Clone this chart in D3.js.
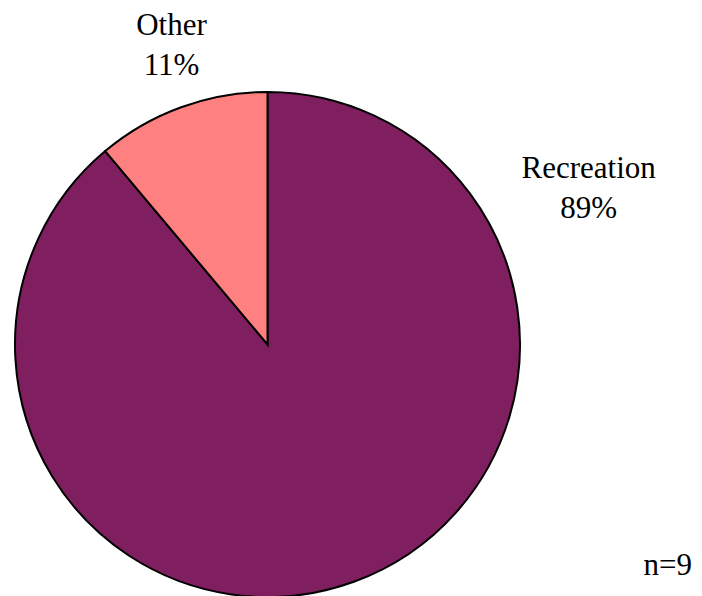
<!DOCTYPE html>
<html><head><meta charset="utf-8">
<script src="https://cdn.jsdelivr.net/npm/d3@7"></script>
<style>html,body{margin:0;padding:0;background:#fff;overflow:hidden}
#wrap{position:relative;width:702px;height:596px}
#wrap svg{position:absolute;left:0;top:0}
.lbl{position:absolute;font-family:"Liberation Serif","Tinos","Times New Roman",serif;font-size:31px;line-height:31px;color:#000;white-space:nowrap}
</style>
</head><body>
<div id="wrap"><svg id="c" width="702" height="596"></svg></div>
<script>
const categories = ["Recreation", "Other"];
const values = [8, 1];
const percentLabels = ["89%", "11%"];
const colors = ["#7F1F5F", "#FF8080"];
const note = "n=9";

const svg = d3.select("#c");
const cx = 267.5, cy = 344.5, r = 252.5;
const g = svg.append("g").attr("transform", `translate(${cx},${cy})`);
const pie = d3.pie().sort(null).startAngle(0).endAngle(2 * Math.PI);
const arc = d3.arc().innerRadius(0).outerRadius(r);
g.selectAll("path").data(pie(values)).enter().append("path")
  .attr("d", arc)
  .attr("fill", (d, i) => colors[i])
  .attr("stroke", "#000")
  .attr("stroke-width", 2);

const wrap = d3.select("#wrap");
const labelPos = [
  {x: 588.7, y: 178},
  {x: 171.5, y: 35}
];
const asc = 26;
function centered(str, x, baseline) {
  wrap.append("div").attr("class", "lbl")
    .style("left", (x - 150) + "px").style("width", "300px")
    .style("text-align", "center")
    .style("top", (baseline - asc) + "px")
    .text(str);
}
categories.forEach((c, i) => {
  centered(c, labelPos[i].x, labelPos[i].y);
  centered(percentLabels[i], labelPos[i].x, labelPos[i].y + 40);
});
wrap.append("div").attr("class", "lbl")
  .style("right", (702 - 692) + "px")
  .style("top", (575 - asc) + "px")
  .text(note);
</script>
</body></html>
